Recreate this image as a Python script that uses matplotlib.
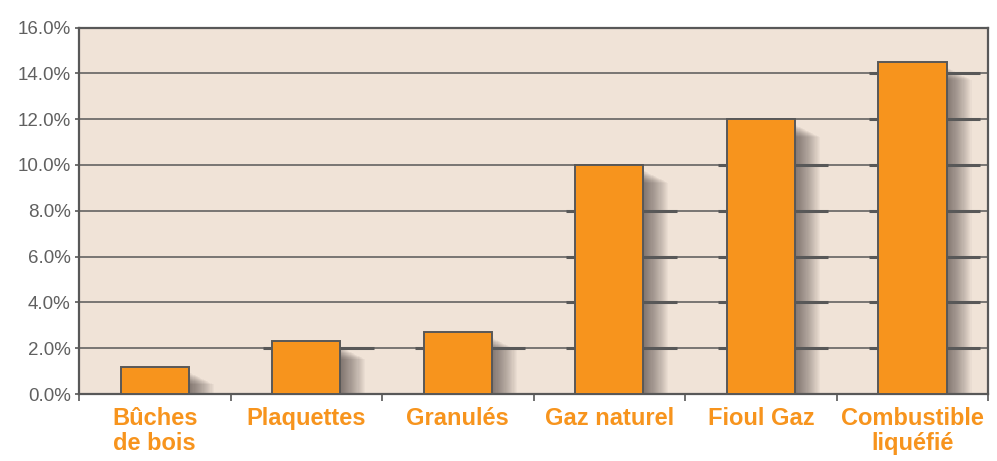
import matplotlib.pyplot as plt
from matplotlib.patches import Rectangle
from matplotlib.ticker import FuncFormatter

plt.rcParams['font.family'] = ['Liberation Sans Narrow', 'Liberation Sans', 'DejaVu Sans']

# données
categories = ['Bûches\nde bois', 'Plaquettes', 'Granulés', 'Gaz naturel', 'Fioul Gaz', 'Combustible\nliquéfié']
valeurs = [1.2, 2.3, 2.7, 10.0, 12.0, 14.5]
yticks = [0, 2, 4, 6, 8, 10, 12, 14, 16]

orange = '#F7941D'
gris = '#585858'
fond = '#F0E3D7'
bar_w = 0.45

fig = plt.figure(figsize=(9.97, 4.61), dpi=100)
ax = fig.add_axes([0.0792, 0.1453, 0.912, 0.795])
ax.set_facecolor(fond)

x = list(range(len(categories)))

# grille
for v in yticks[1:-1]:
    ax.axhline(v, color=gris, lw=1.1, zorder=1)

# ombres floues
for xi, h in zip(x, valeurs):
    for k in range(22):
        dx = 0.0075 * (k + 1)
        dy = 0.25 + 0.025 * k
        ax.add_patch(Rectangle((xi - bar_w / 2 + dx, -0.1), bar_w, max(h - dy, 0) + 0.1,
                               facecolor='#2a2020', alpha=0.032, lw=0, zorder=2))
    # segments épais de la grille autour des barres
    for v in yticks[1:-1]:
        if v < h:
            ax.plot([xi - bar_w / 2 - 0.06, xi + bar_w / 2 + 0.22], [v, v],
                    color=gris, lw=2.2, zorder=2.5, solid_capstyle='butt')

ax.bar(x, valeurs, width=bar_w, color=orange, edgecolor=gris, linewidth=1.4, zorder=3)

ax.set_xlim(-0.5, len(categories) - 0.5)
ax.set_ylim(0, 16)
ax.set_yticks(yticks)
ax.yaxis.set_major_formatter(FuncFormatter(lambda v, p: f'{v:.1f}%'))
ax.tick_params(axis='y', colors=gris, labelcolor='#606060', labelsize=13.5,
               length=3, width=1.2, pad=3)

ax.set_xticks([i - 0.5 for i in range(len(categories) + 1)])
ax.set_xticklabels([])
ax.tick_params(axis='x', colors=gris, length=5, width=1.2)
for xi, lab in zip(x, categories):
    ax.text(xi, -0.55, lab, ha='center', va='top', color=orange, fontsize=17,
            fontweight='bold', linespacing=1.15, clip_on=False)

for s in ax.spines.values():
    s.set_color(gris)
    s.set_linewidth(1.6)

fig.savefig('out.png', dpi=100)
